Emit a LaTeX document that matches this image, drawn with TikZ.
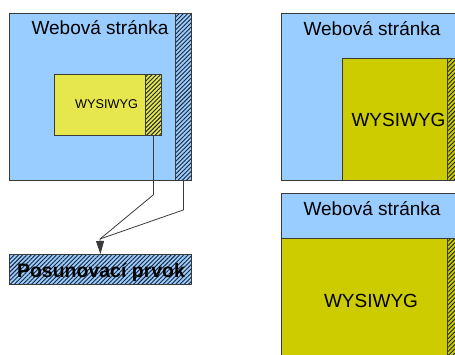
\documentclass[tikz,border=0pt]{standalone}
\usepackage{fontspec}
\setmainfont{Liberation Sans}
\usetikzlibrary{patterns.meta,arrows.meta}
\definecolor{pageblue}{HTML}{99CCFF}
\definecolor{lightyellow}{HTML}{E6E64D}
\definecolor{olive}{HTML}{CCCC00}
\definecolor{edge}{HTML}{3A3A3A}
\definecolor{stripe}{HTML}{1A2233}
\begin{document}
\begin{tikzpicture}[x=1pt,y=-1pt,
  box/.style={draw=edge, line width=0.8pt, inner sep=0pt, anchor=north west},
  page/.style={box, fill=pageblue},
  hatched/.style={box, preaction={fill=#1},
    pattern={Lines[angle=45,distance=3pt,line width=0.9pt]}, pattern color=stripe},
  label/.style={anchor=base, inner sep=0pt, text=black},
  big/.style={label, font=\fontsize{19}{22}\selectfont},
  small/.style={label, font=\fontsize{12.7}{15}\selectfont},
  link/.style={draw=edge, line width=0.8pt},
  tip/.style={-{Triangle[length=13pt,width=8pt]}}
]
\useasboundingbox (0,0) rectangle (455,354);
\clip (0,0) rectangle (455,354);

% left: page with an embedded editor
\node[page, minimum width=182, minimum height=167] (page1) at (9,13) {};
\node[hatched=pageblue, minimum width=16, minimum height=167] (bar1) at (175,13) {};
\node[big] (title1) at (100,34.5) {Webová stránka};
\node[box, fill=lightyellow, minimum width=91, minimum height=61] (wys1) at (54,74) {};
\node[hatched=lightyellow, minimum width=16, minimum height=61] (bar1in) at (145,74) {};
\node[small] (wtext1) at (106.5,108) {WYSIWYG};

% scroll element
\node[hatched=pageblue, minimum width=182, minimum height=30] (posun) at (9,254) {};
\node[label, font=\fontsize{19.5}{22}\selectfont\bfseries] (ptext) at (101,277) {Posunovací prvok};

\coordinate (merge) at (100,239);
\draw[link] (bar1in.south) -- ++(0,59) -- (merge);
\draw[link] (bar1.south) -- ++(0,29) -- (merge);
\draw[link, tip] (merge) -- (posun.north);

% right top: editor filling the lower part of the page
\node[page, minimum width=190, minimum height=167] (page2) at (281,13) {};
\node[big] (title2) at (372,35) {Webová stránka};
\node[box, fill=olive, minimum width=105, minimum height=122] (wys2) at (342,58) {};
\node[hatched=olive, minimum width=16, minimum height=122] (bar2) at (447,58) {};
\node[big] (wtext2) at (398.5,126) {WYSIWYG};

% right bottom: editor spanning the page width
\node[page, minimum width=190, minimum height=180] (page3) at (281,193) {};
\node[big] (title3) at (372,215) {Webová stránka};
\node[box, fill=olive, minimum width=166, minimum height=130] (wys3) at (281,238) {};
\node[hatched=olive, minimum width=16, minimum height=130] (bar3) at (447,238) {};
\node[big] (wtext3) at (371,307) {WYSIWYG};
\end{tikzpicture}
\end{document}
